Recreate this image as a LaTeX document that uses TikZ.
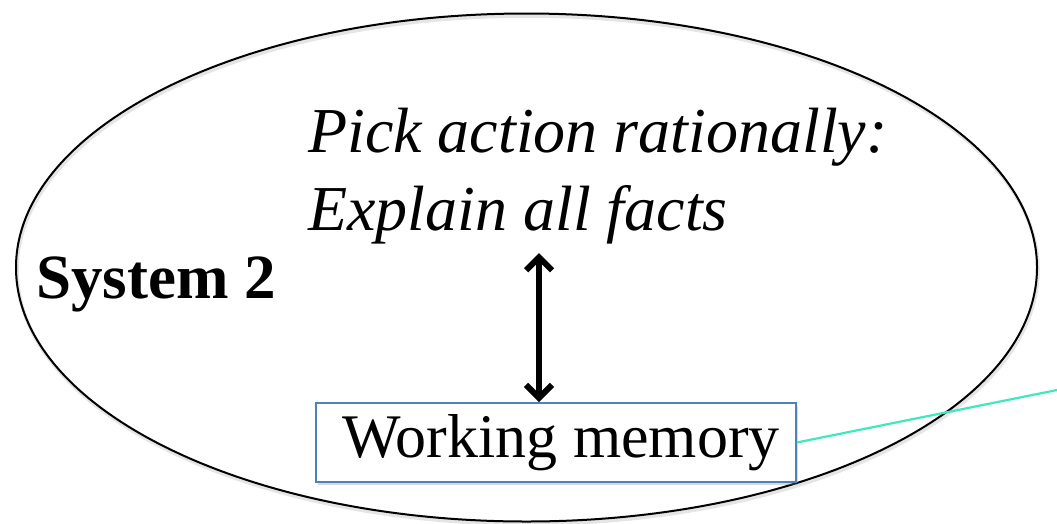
\documentclass[tikz,border=0pt]{standalone}
\usepackage{fontspec}
\setmainfont{Liberation Serif}
\usetikzlibrary{arrows.meta,shadows}
\definecolor{boxblue}{HTML}{4F81BD}
\definecolor{aqua}{HTML}{40E8C0}
\tikzset{
  txt/.style={anchor=base west, inner sep=0pt},
  membox/.style={draw=boxblue, line width=1.6pt, fill=white, minimum width=480pt, minimum height=79pt,
    inner sep=0pt, font=\fontsize{62}{74}\selectfont,
    drop shadow={opacity=0.3, shadow xshift=1.5pt, shadow yshift=-2.5pt}},
  dbl/.style={{Straight Barb[length=13pt,width=26pt]}-{Straight Barb[length=13pt,width=26pt]}, line width=6pt, black},
  link/.style={draw=aqua, line width=2.2pt}
}
\begin{document}
\begin{tikzpicture}[x=1pt,y=-1pt]
\useasboundingbox (0,0) rectangle (1057,523);
\draw[black!10, line width=3.5pt] (527.5,270) ellipse [x radius=510.5, y radius=254];
\draw[black, line width=2pt] (526.5,267.5) ellipse [x radius=510.5, y radius=254];
\node[txt, font=\rmfamily\itshape\fontsize{64}{78}\selectfont] (pick) at (308,152) {Pick action rationally:};
\node[txt, font=\rmfamily\itshape\fontsize{64}{78}\selectfont] (expl) at (308,230) {Explain all facts};
\node[txt, font=\rmfamily\bfseries\fontsize{63}{75}\selectfont] (sys) at (36,298) {System 2};
\node[membox] (wm) at (556,442.5) {\hspace*{10pt}Working memory};
\coordinate (atop) at (539,253);
\coordinate (farend) at (1057,390);
\draw[dbl] (atop) -- (wm.north -| atop);
\draw[link] (wm.east) -- (farend);
\end{tikzpicture}
\end{document}
